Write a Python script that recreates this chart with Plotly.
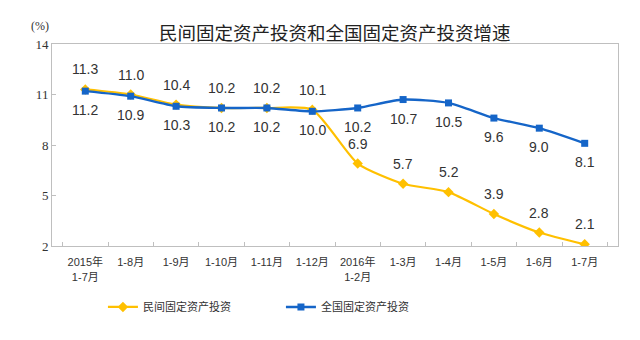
import plotly.graph_objects as go

categories = ["2015年<br>1-7月", "1-8月", "1-9月", "1-10月", "1-11月", "1-12月",
              "2016年<br>1-2月", "1-3月", "1-4月", "1-5月", "1-6月", "1-7月"]
private_inv = [11.3, 11.0, 10.4, 10.2, 10.2, 10.1, 6.9, 5.7, 5.2, 3.9, 2.8, 2.1]
national_inv = [11.2, 10.9, 10.3, 10.2, 10.2, 10.0, 10.2, 10.7, 10.5, 9.6, 9.0, 8.1]
y_ticks = [2, 5, 8, 11, 14]

YELLOW = "#FFC000"
BLUE = "#1565C8"

fig = go.Figure()
fig.add_trace(go.Scatter(
    x=categories, y=private_inv, name="民间固定资产投资", mode="lines+markers",
    line=dict(color=YELLOW, width=2.2, shape="spline", smoothing=0.6),
    marker=dict(symbol="diamond", size=8, color=YELLOW),
))
fig.add_trace(go.Scatter(
    x=categories, y=national_inv, name="全国固定资产投资", mode="lines+markers",
    line=dict(color=BLUE, width=2.4, shape="spline", smoothing=0.6),
    marker=dict(symbol="square", size=7, color=BLUE),
))

annotations = []
for c, v in zip(categories, private_inv):
    annotations.append(dict(x=c, y=v, text=f"{v:.1f}", showarrow=False,
                            yshift=20, font=dict(size=14, color="#333333",
                                                 family="Liberation Sans, Arial")))
for c, v in zip(categories, national_inv):
    annotations.append(dict(x=c, y=v, text=f"{v:.1f}", showarrow=False,
                            yshift=-19, font=dict(size=14, color="#333333",
                                                  family="Liberation Sans, Arial")))
annotations.append(dict(xref="paper", yref="paper", x=-0.04, y=1.0, yshift=27,
                        text="(%)", showarrow=False,
                        font=dict(size=12, color="#333333", family="Liberation Serif")))

fig.update_layout(
    width=640, height=340,
    margin=dict(l=52, r=22, t=44, b=94),
    paper_bgcolor="white", plot_bgcolor="white",
    title=dict(text="民间固定资产投资和全国固定资产投资增速", x=0.523, xanchor="center",
               y=0.9, yanchor="middle",
               font=dict(size=18.5, color="#222222", family="Noto Sans CJK SC")),
    showlegend=True,
    legend=dict(orientation="h", x=0.09, xanchor="left", y=-0.23, yanchor="top",
                font=dict(size=11, color="#333333", family="Noto Sans CJK SC"),
                entrywidth=133, entrywidthmode="pixels"),
    annotations=annotations,
    xaxis=dict(type="category", tickson="boundaries", ticks="inside", ticklen=4,
               tickcolor="#bfbfbf", showline=True, linecolor="#bfbfbf", mirror=True,
               showgrid=False, ticklabelstandoff=6,
               tickfont=dict(size=11, color="#333333",
                             family="Liberation Sans, Noto Sans CJK SC")),
    yaxis=dict(range=[2, 14], tickvals=y_ticks, ticks="inside", ticklen=4,
               tickcolor="#bfbfbf", showline=True, linecolor="#bfbfbf", mirror=True,
               showgrid=False, zeroline=False, ticksuffix="\u2003",
               tickfont=dict(size=13, color="#333333", family="Liberation Serif")),
)

fig.write_html("out.html")
